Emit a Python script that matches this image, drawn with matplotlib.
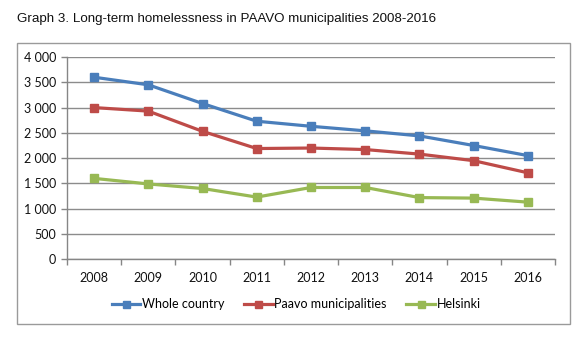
import matplotlib
matplotlib.use("Agg")
import matplotlib.pyplot as plt
from matplotlib.patches import Rectangle
from matplotlib.ticker import FuncFormatter

years = ["2008", "2009", "2010", "2011", "2012", "2013", "2014", "2015", "2016"]
whole_country = [3600, 3450, 3080, 2730, 2630, 2540, 2440, 2250, 2050]
paavo = [3000, 2930, 2530, 2190, 2200, 2170, 2080, 1950, 1710]
helsinki = [1600, 1490, 1400, 1230, 1420, 1420, 1220, 1210, 1130]
series_names = ["Whole country", "Paavo municipalities", "Helsinki"]
title = "Graph 3. Long-term homelessness in PAAVO municipalities 2008-2016"

colors = ["#4A7EBB", "#BE4B48", "#98B954"]
W, H = 588, 349
fig = plt.figure(figsize=(W / 100, H / 100), dpi=100)

# outer chart frame
fig.patches.append(Rectangle((17 / W, 1 - 324 / H), (570 - 17) / W, (324 - 43) / H,
                             transform=fig.transFigure, fill=False,
                             edgecolor="#9A9A9A", linewidth=1.0))

fig.text(17 / W, 1 - 19 / H, title, fontsize=9.6, family="Liberation Sans",
         va="center", ha="left", color="#111111")

ax = fig.add_axes([67 / W, 1 - 259.3 / H, (555 - 67) / W, (259.3 - 57) / H])
x = list(range(len(years)))
for vals, c, name in zip([whole_country, paavo, helsinki], colors, series_names):
    ax.plot(x, vals, color=c, linewidth=2.3, marker="s", markersize=6.3,
            markerfacecolor=c, markeredgecolor=c, label=name, zorder=3)

ax.set_xlim(-0.5, len(years) - 0.5)
ax.set_ylim(0, 4000)
ax.set_yticks(range(0, 4001, 500))
ax.yaxis.set_major_formatter(FuncFormatter(lambda v, p: f"{int(v):,}".replace(",", " ")))
ax.set_xticks(x)
ax.set_xticklabels(years)
ax.set_xticks([i - 0.5 for i in range(len(years) + 1)], minor=True)
ax.tick_params(axis="x", which="major", length=0, pad=9, labelsize=9, colors="#111111")
ax.tick_params(axis="x", which="minor", length=4, width=1, color="#868686", direction="out")
ax.tick_params(axis="y", length=4, width=1, color="#868686", pad=4, labelsize=9, labelcolor="#111111")
for lbl in ax.get_xticklabels() + ax.get_yticklabels():
    lbl.set_family("Lato")

ax.grid(axis="y", color="#8C8C8C", linewidth=1.0, zorder=0)
for s in ["top", "right"]:
    ax.spines[s].set_visible(False)
for s in ["left", "bottom"]:
    ax.spines[s].set_color("#868686")
    ax.spines[s].set_linewidth(1.0)

leg = fig.legend(loc="center", bbox_to_anchor=(296 / W, 1 - 304 / H), ncol=3,
                 frameon=False, prop={"family": "Lato", "size": 9},
                 handlelength=2.3, handletextpad=0.1, columnspacing=1.6,
                 markerscale=0.8)

fig.savefig("out.png", dpi=100)
